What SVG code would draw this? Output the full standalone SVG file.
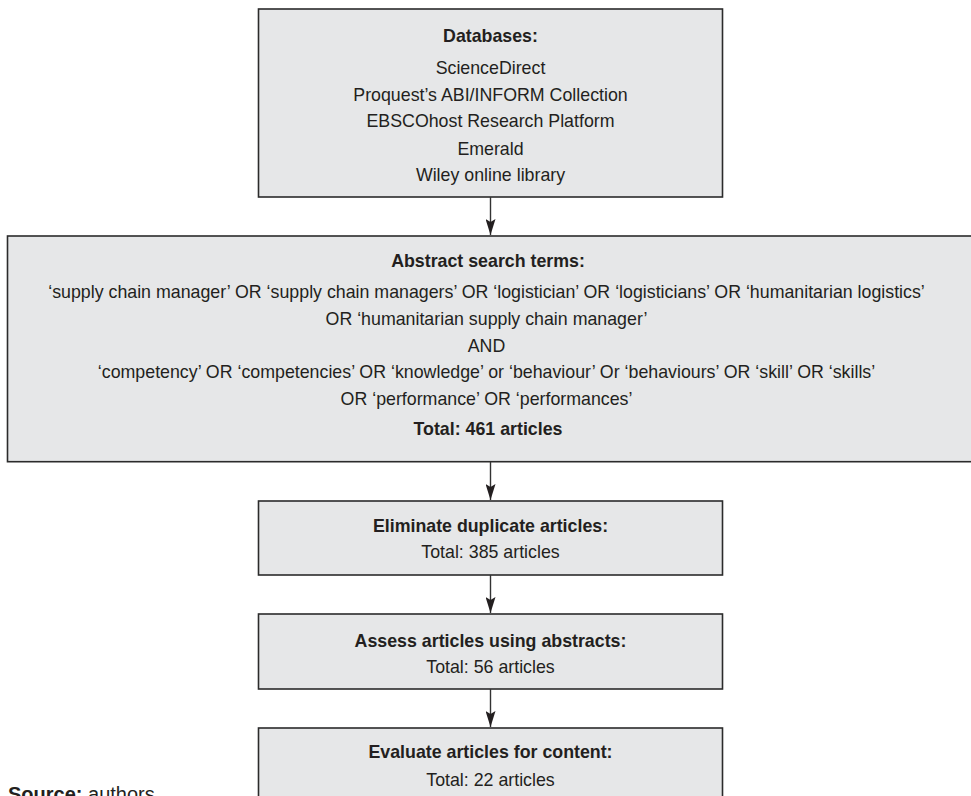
<svg xmlns="http://www.w3.org/2000/svg" width="971" height="796" viewBox="0 0 971 796">
<style>
  .box { fill: #e6e7e8; stroke: #2b2b2b; stroke-width: 1.6; }
  .t { font-family: "Liberation Sans", Arial, sans-serif; font-size: 17.8px; fill: #231f20; text-anchor: middle; }
  .b { font-weight: bold; }
  .conn { stroke: #333333; stroke-width: 1.4; fill: none; marker-end: url(#arr); }
</style>
<defs>
  <marker id="arr" markerUnits="userSpaceOnUse" markerWidth="16" markerHeight="10" refX="16" refY="5" orient="auto">
    <path d="M0,0 L16,5 L0,10 L3,5 z" fill="#231f20"/>
  </marker>
</defs>
<rect width="971" height="796" fill="#ffffff"/>

<g id="databases">
  <rect class="box" x="258.5" y="9" width="464" height="188"/>
  <text class="t b" x="490.5" y="42">Databases:</text>
  <text class="t" x="490.5" y="74">ScienceDirect</text>
  <text class="t" x="490.5" y="100.7">Proquest’s ABI/INFORM Collection</text>
  <text class="t" x="490.5" y="127.3">EBSCOhost Research Platform</text>
  <text class="t" x="490.5" y="155">Emerald</text>
  <text class="t" x="490.5" y="180.7">Wiley online library</text>
</g>

<g id="search-terms">
  <rect class="box" x="7.5" y="236" width="966" height="225.7"/>
  <text class="t b" x="488" y="266.7">Abstract search terms:</text>
  <text class="t" x="486.5" y="298.3">‘supply chain manager’ OR ‘supply chain managers’ OR ‘logistician’ OR ‘logisticians’ OR ‘humanitarian logistics’</text>
  <text class="t" x="486.5" y="325">OR ‘humanitarian supply chain manager’</text>
  <text class="t" x="486.5" y="351.7">AND</text>
  <text class="t" x="486.5" y="378.3">‘competency’ OR ‘competencies’ OR ‘knowledge’ or ‘behaviour’ Or ‘behaviours’ OR ‘skill’ OR ‘skills’</text>
  <text class="t" x="486.5" y="405">OR ‘performance’ OR ‘performances’</text>
  <text class="t b" x="488" y="435">Total: 461 articles</text>
</g>

<g id="eliminate">
  <rect class="box" x="258.5" y="501" width="464" height="74"/>
  <text class="t b" x="490.5" y="531.7">Eliminate duplicate articles:</text>
  <text class="t" x="490.5" y="558.3">Total: 385 articles</text>
</g>

<g id="assess">
  <rect class="box" x="258.5" y="614" width="464" height="75"/>
  <text class="t b" x="490.5" y="646.5">Assess articles using abstracts:</text>
  <text class="t" x="490.5" y="673">Total: 56 articles</text>
</g>

<g id="evaluate">
  <rect class="box" x="258.5" y="728" width="464" height="100"/>
  <text class="t b" x="490.5" y="758.3">Evaluate articles for content:</text>
  <text class="t" x="490.5" y="785.7">Total: 22 articles</text>
</g>

<g id="source">
  <text x="8" y="801" font-family="Liberation Sans, Arial, sans-serif" font-size="20" fill="#231f20"><tspan font-weight="bold">Source:</tspan> authors</text>
</g>

<g id="connectors">
  <line class="conn" x1="490.5" y1="197" x2="490.5" y2="235"/>
  <line class="conn" x1="490.5" y1="462" x2="490.5" y2="500"/>
  <line class="conn" x1="490.5" y1="575" x2="490.5" y2="613"/>
  <line class="conn" x1="490.5" y1="689" x2="490.5" y2="727"/>
</g>
</svg>
